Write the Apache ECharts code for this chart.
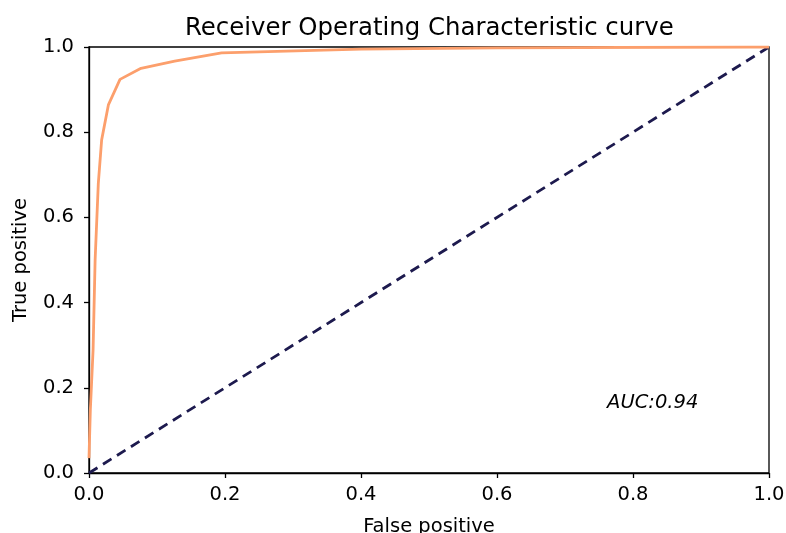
<!DOCTYPE html>
<html>
<head>
<meta charset="utf-8">
<script src="https://cdn.jsdelivr.net/npm/echarts@6/dist/echarts.min.js"></script>
<style>html,body{margin:0;padding:0;background:#fff}#chart{width:786px;height:533px}</style>
</head>
<body>
<div id="chart"></div>
<script>
// ROC curve points: false positive rate vs true positive rate
const fpr = [0, 0.002, 0.006, 0.009, 0.0137, 0.0186, 0.0285, 0.0456, 0.0765, 0.126, 0.195, 0.4, 0.6, 0.97, 1.0];
const tpr = [0.035, 0.15, 0.289, 0.5, 0.68, 0.782, 0.864, 0.924, 0.950, 0.967, 0.986, 0.995, 0.998, 1.0, 1.0];
// Chance line
const chanceX = [0, 1];
const chanceY = [0, 1];
const aucText = 'AUC:0.94';
const aucPos = [0.829, 0.164];

const font = 'DejaVu Sans';
const chart = echarts.init(document.getElementById('chart'), null, {renderer: 'canvas'});
const labelStyle = {color: '#000', fontFamily: font, fontSize: 19.5, formatter: v => v.toFixed(1)};
const axisCommon = {
  type: 'value', min: 0, max: 1, interval: 0.2,
  axisLine: {show: true, lineStyle: {color: '#000', width: 1.3}},
  axisTick: {show: true, inside: false, length: 5, lineStyle: {color: '#000', width: 1.3}},
  splitLine: {show: false},
  nameTextStyle: {color: '#000', fontFamily: font, fontSize: 19.5}
};
chart.setOption({
  animation: false,
  backgroundColor: '#fff',
  title: {
    text: 'Receiver Operating Characteristic curve',
    left: 180, top: 12,
    textStyle: {fontFamily: font, fontSize: 24.4, fontWeight: 'normal', color: '#000'}
  },
  grid: {
    left: 89, right: 17, top: 47, bottom: 60,
    containLabel: false, outerBoundsMode: 'none',
    show: true, borderColor: '#000', borderWidth: 1.3, backgroundColor: 'transparent'
  },
  xAxis: Object.assign({}, axisCommon, {
    name: 'False positive', nameLocation: 'middle', nameGap: 44,
    axisLabel: Object.assign({}, labelStyle, {margin: 12})
  }),
  yAxis: Object.assign({}, axisCommon, {
    name: 'True positive', nameLocation: 'middle', nameGap: 58, nameRotate: 90,
    axisLabel: Object.assign({}, labelStyle, {margin: 15})
  }),
  series: [
    {
      type: 'line', data: chanceX.map((x, i) => [x, chanceY[i]]),
      showSymbol: false, symbol: 'none', silent: true,
      lineStyle: {color: '#1d1a4e', width: 2.8, type: [10, 6.5]}
    },
    {
      type: 'line', data: fpr.map((x, i) => [x, tpr[i]]),
      showSymbol: false, symbol: 'none', silent: true,
      lineStyle: {color: '#fc9f6c', width: 2.8}
    },
    {
      type: 'scatter', data: [aucPos], symbolSize: 0, silent: true,
      itemStyle: {opacity: 1, color: 'transparent'},
      label: {
        show: true, position: 'inside', formatter: aucText,
        fontFamily: font, fontSize: 19.5, fontStyle: 'italic', color: '#000'
      }
    }
  ]
});
</script>
</body>
</html>
